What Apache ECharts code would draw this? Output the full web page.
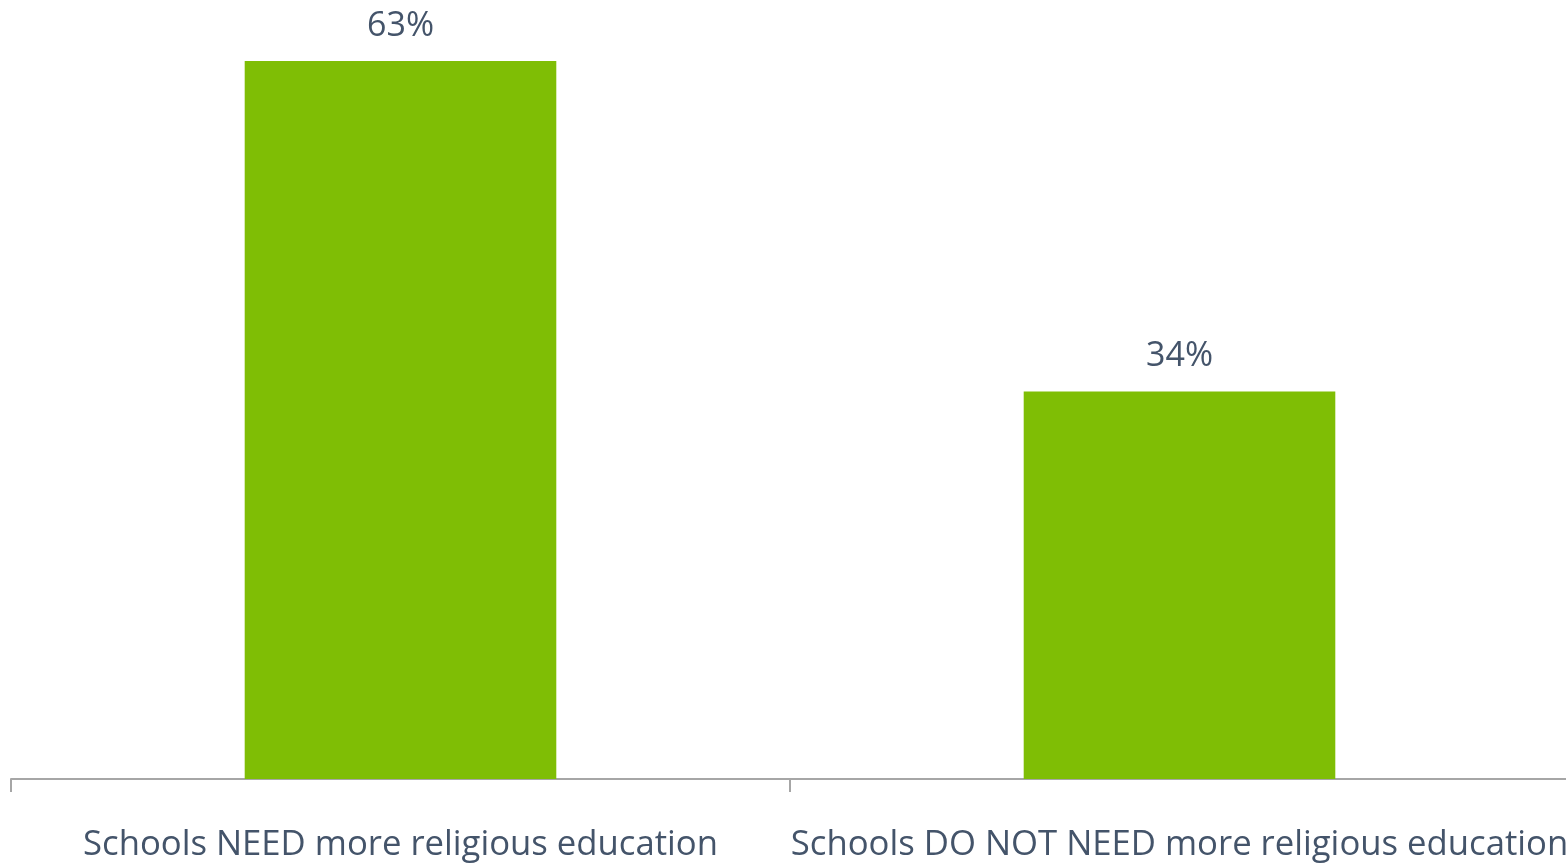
<!DOCTYPE html>
<html>
<head>
<meta charset="utf-8">
<script src="https://cdn.jsdelivr.net/npm/echarts@6/dist/echarts.min.js"></script>
<style>html,body{margin:0;padding:0;background:#fff;}#c{width:1566px;height:863px;}</style>
</head>
<body>
<div id="c"></div>
<script>
const categories = ['Schools NEED more religious education', 'Schools DO NOT NEED more religious education'];
const values = [63, 34];

const chart = echarts.init(document.getElementById('c'));
chart.setOption({
  animation: false,
  grid: { left: 11, top: 61, width: 1558, bottom: 84, containLabel: false, outerBoundsMode: 'none' },
  xAxis: {
    type: 'category',
    data: categories,
    axisLine: { lineStyle: { color: '#a6a6a6', width: 2 } },
    axisTick: { show: true, length: 13, lineStyle: { color: '#a6a6a6', width: 2 } },
    axisLabel: { color: '#44546a', fontFamily: 'Open Sans', fontSize: 34.7, margin: 49, interval: 0 }
  },
  yAxis: { type: 'value', min: 0, max: 63, show: false, splitLine: { show: false } },
  series: [{
    type: 'bar',
    data: values,
    barWidth: '40%',
    itemStyle: { color: '#7fbe05' },
    label: { show: true, position: 'top', distance: 18, formatter: '{c}%', color: '#44546a', fontFamily: 'Open Sans', fontSize: 34 }
  }]
});
</script>
</body>
</html>
